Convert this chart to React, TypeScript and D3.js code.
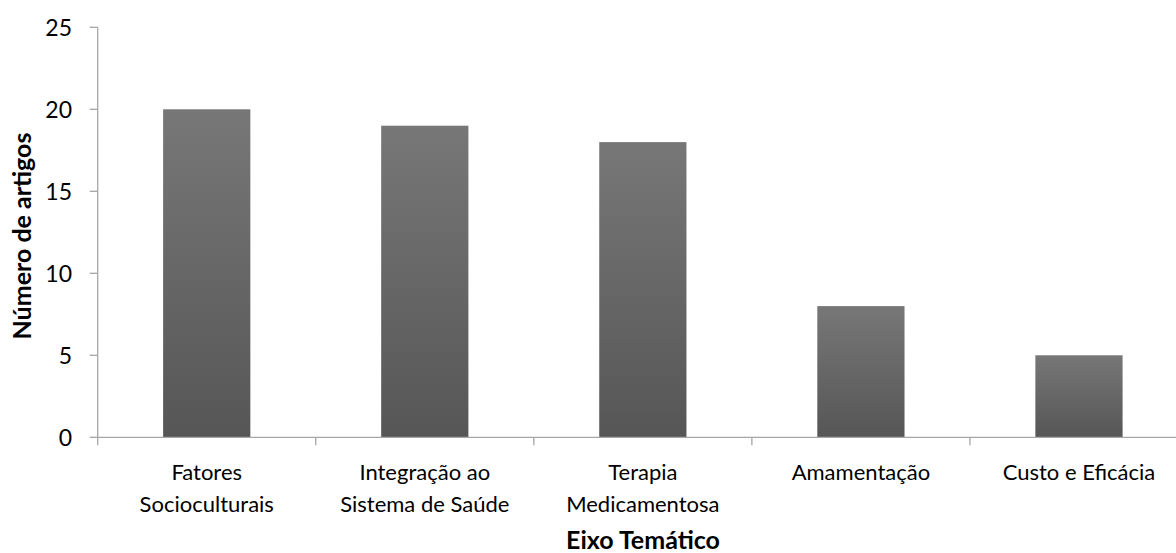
import React from "react";
import * as d3 from "d3";

const categories: string[][] = [
  ["Fatores", "Socioculturais"],
  ["Integração ao", "Sistema de Saúde"],
  ["Terapia", "Medicamentosa"],
  ["Amamentação"],
  ["Custo e Eficácia"],
];
const values: number[] = [20, 19, 18, 8, 5];
const yTicks: number[] = [0, 5, 10, 15, 20, 25];
const xTitle = "Eixo Temático";
const yTitle = "Número de artigos";

const W = 1176;
const H = 553;
const FONT = "Lato, 'Open Sans', sans-serif";

export default function App() {
  const left = 97.7;
  const right = 1188;
  const top = 27.3;
  const bottom = 437.3;
  const keys = categories.map((c) => c.join(" "));
  const x = d3.scaleBand<string>().domain(keys).range([left, right]).paddingInner(0.6).paddingOuter(0.3);
  const band = d3.scaleBand<string>().domain(keys).range([left, right]).padding(0);
  const y = d3.scaleLinear().domain([0, 25]).range([bottom, top]);
  const axisColor = "#a6a6a6";
  const tickBoundaries = keys.map((k) => band(k) as number).concat([right]);

  return (
    <svg width={W} height={H} style={{ position: "absolute", left: 0, top: 0 }} fontFamily={FONT}>
      <defs>
        <linearGradient id="barGrad" x1="0" y1="0" x2="0" y2="1">
          <stop offset="0" stopColor="#777777" />
          <stop offset="1" stopColor="#565656" />
        </linearGradient>
      </defs>
      <rect x={0} y={0} width={W} height={H} fill="#ffffff" />
      {values.map((v, i) => (
        <rect
          key={i}
          x={x(keys[i])}
          y={y(v)}
          width={x.bandwidth()}
          height={y(0) - y(v)}
          fill="url(#barGrad)"
        />
      ))}
      {/* y axis */}
      <line x1={left} x2={left} y1={y(25)} y2={y(0)} stroke={axisColor} strokeWidth={1.3} />
      {yTicks.map((t) => (
        <g key={t}>
          <line x1={left - 8} x2={left} y1={y(t)} y2={y(t)} stroke={axisColor} strokeWidth={1.3} />
          <text x={72} y={y(t)} dy="0.36em" textAnchor="end" fontSize={23} fill="#000">
            {t}
          </text>
        </g>
      ))}
      {/* x axis */}
      <line x1={left} x2={W} y1={y(0)} y2={y(0)} stroke={axisColor} strokeWidth={1.3} />
      {tickBoundaries.map((b, i) => (
        <line key={i} x1={b} x2={b} y1={y(0)} y2={y(0) + 8} stroke={axisColor} strokeWidth={1.3} />
      ))}
      {categories.map((lines, i) => {
        const cx = (band(keys[i]) as number) + band.bandwidth() / 2;
        return (
          <text key={i} x={cx} textAnchor="middle" fontSize={22} fill="#000">
            {lines.map((l, j) => (
              <tspan key={j} x={cx} y={479.5 + j * 32.2}>
                {l}
              </tspan>
            ))}
          </text>
        );
      })}
      <text x={643} y={549} textAnchor="middle" fontSize={25} fontWeight="bold" fill="#000">
        {xTitle}
      </text>
      <text
        transform={`translate(31, 236) rotate(-90)`}
        textAnchor="middle"
        fontSize={25}
        fontWeight="bold"
        fill="#000"
      >
        {yTitle}
      </text>
    </svg>
  );
}
